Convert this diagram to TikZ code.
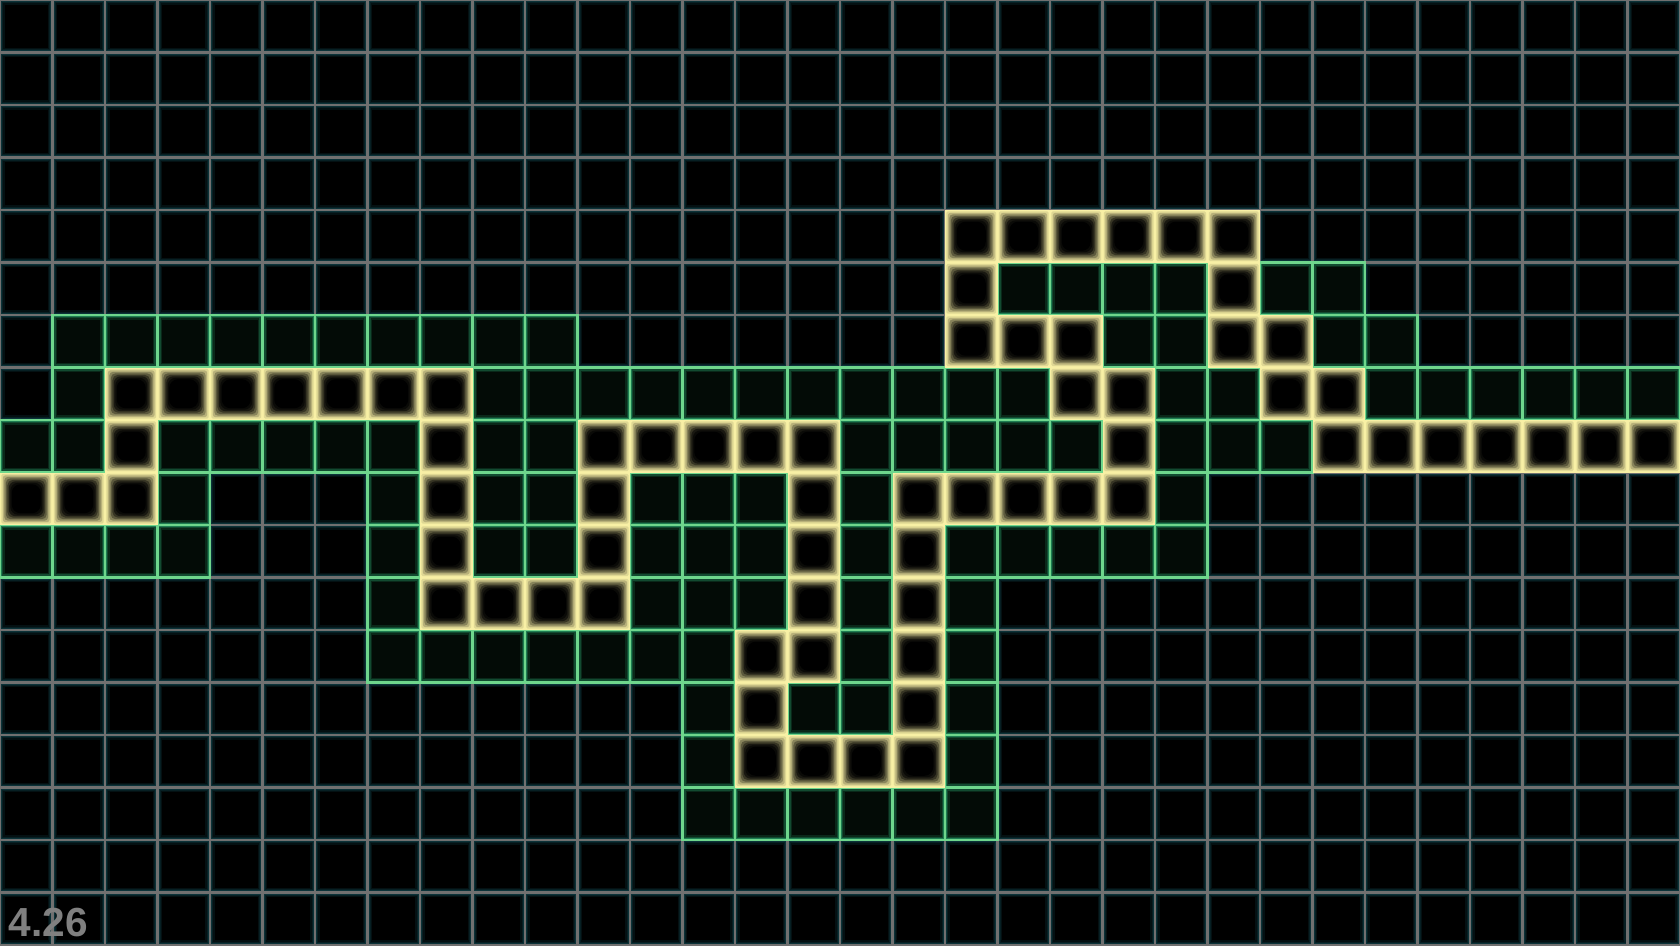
\documentclass[tikz,border=0pt]{standalone}
\usepackage{fontspec}
\newfontfamily\stampfont{Liberation Sans}
\definecolor{gridln}{RGB}{112,112,112}
\definecolor{gridglow}{RGB}{14,62,70}
\definecolor{grnln}{RGB}{110,214,140}
\definecolor{grnglow}{RGB}{30,125,82}
\definecolor{grnfill}{RGB}{3,11,6}
\definecolor{ylwln}{RGB}{248,240,165}
\definecolor{stampgray}{RGB}{128,128,128}

\begin{document}
\begin{tikzpicture}[x=0.5cm, y=0.5cm,
    gridglow1/.style={gridglow!25!black, line width=2.6pt},
    gridglow2/.style={gridglow!50!black, line width=1.8pt},
    gridglow3/.style={gridglow!80!black, line width=1.1pt},
    gridline/.style={gridln, line width=0.6pt},
    opencell/.style={grnln, line width=0.6pt},
    stamp/.style={font=\stampfont\bfseries\fontsize{11}{13}\selectfont, text=stampgray, anchor=base west, inner sep=0pt}
  ]
    \fill[black] (0,0) rectangle (32,18);
    \useasboundingbox (0,0) rectangle (32,18);

    \draw[gridglow1, step=0.5cm] (0,0) grid (32,18);
    \draw[gridglow2, step=0.5cm] (0,0) grid (32,18);
    \draw[gridglow3, step=0.5cm] (0,0) grid (32,18);
    \draw[gridline, step=0.5cm] (0,0) grid (32,18);

    % explored cells
    \foreach \r/\cols in {5/{19,20,21,22,24,25},
        6/{1,2,3,4,5,6,7,8,9,10,21,22,25,26},
        7/{1,9,10,11,12,13,14,15,16,17,18,19,22,23,26,27,28,29,30,31},
        8/{0,1,3,4,5,6,7,9,10,16,17,18,19,20,22,23,24},
        9/{3,7,9,10,12,13,14,16,22},
        10/{0,1,2,3,7,9,10,12,13,14,16,18,19,20,21,22},
        11/{7,12,13,14,16,18},
        12/{7,8,9,10,11,12,13,16,18},
        13/{13,15,16,18}, 14/{13,18}, 15/{13,14,15,16,17,18}} {
      \foreach \c in \cols {
        \fill[grnglow] (\c,17-\r) rectangle ++(1,1);
        \fill[grnglow!55!grnfill] (\c+0.03,17-\r+0.03) rectangle (\c+0.97,18-\r-0.03);
        \fill[grnglow!25!grnfill] (\c+0.06,17-\r+0.06) rectangle (\c+0.94,18-\r-0.06);
        \fill[grnfill] (\c+0.09,17-\r+0.09) rectangle (\c+0.91,18-\r-0.09);
        \draw[opencell] (\c,17-\r) rectangle ++(1,1);
      }
    }

    % path cells
    \foreach \r/\cols in {4/{18,19,20,21,22,23}, 5/{18,23}, 6/{18,19,20,23,24},
        7/{2,3,4,5,6,7,8,20,21,24,25},
        8/{2,8,11,12,13,14,15,21,25,26,27,28,29,30,31},
        9/{0,1,2,8,11,15,17,18,19,20,21}, 10/{8,11,15,17},
        11/{8,9,10,11,15,17}, 12/{14,15,17}, 13/{14,17}, 14/{14,15,16,17}} {
      \foreach \c in \cols {
        \foreach \i/\k in {0/100, 1/90, 2/74, 3/55, 4/37, 5/22, 6/10, 7/4, 8/0} {
          \fill[ylwln!\k!black, rounded corners=\i*0.3pt]
            (\c+\i*0.028,17-\r+\i*0.028) rectangle (\c+1-\i*0.028,18-\r-\i*0.028);
        }
      }
    }

    \node[stamp] (clock) at (0.15,0.17) {4.26};
  \end{tikzpicture}
\end{document}
